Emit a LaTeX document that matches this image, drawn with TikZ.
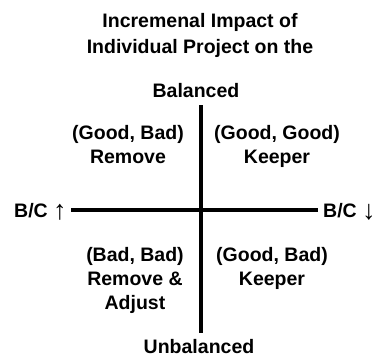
\documentclass[tikz,border=0pt]{standalone}
\usepackage{fontspec}
\setmainfont{Liberation Sans}
\usetikzlibrary{positioning}
\newcommand{\bcarrow}[1]{\raisebox{-2.5pt}{\fontsize{27pt}{27pt}\selectfont\mdseries #1}}
\tikzset{
    quadtext/.style={
        align=center,
        font={\fontsize{19.5pt}{24pt}\selectfont\bfseries},
        inner sep=0pt,
        anchor=base
    },
    axisline/.style={draw, line width=4pt},
}

\begin{document}
\begin{tikzpicture}[x=1pt,y=-1pt]
\useasboundingbox (0,0) rectangle (378,357);
% title and poles (base = last line)
\node[quadtext, font={\fontsize{19.5pt}{26pt}\selectfont\bfseries}] (title) at (200,53) {Incremenal Impact of\\Individual Project on the};
\node[quadtext] (top) at (196,97) {Balanced};
\node[quadtext] (bottom) at (199,353) {Unbalanced};
\node[quadtext, anchor=base west] (west) at (14,217) {B/C \bcarrow{↑}};
\node[quadtext, anchor=base west] (east) at (323,217) {B/C \bcarrow{↓}};
% quadrants
\node[quadtext] (NW) at (128,163) {(Good, Bad)\\Remove};
\node[quadtext] (NE) at (277,163) {(Good, Good)\\Keeper};
\node[quadtext] (SW) at (135,309) {(Bad, Bad)\\Remove \&\\Adjust};
\node[quadtext] (SE) at (272,285) {(Good, Bad)\\Keeper};
% axes
\coordinate (N) at (201,105);
\coordinate (S) at (201,333);
\coordinate (W) at (71,209.5);
\coordinate (E) at (318,209.5);
\draw[axisline] (N) -- (S);
\draw[axisline] (W) -- (E);
\end{tikzpicture}
\end{document}
